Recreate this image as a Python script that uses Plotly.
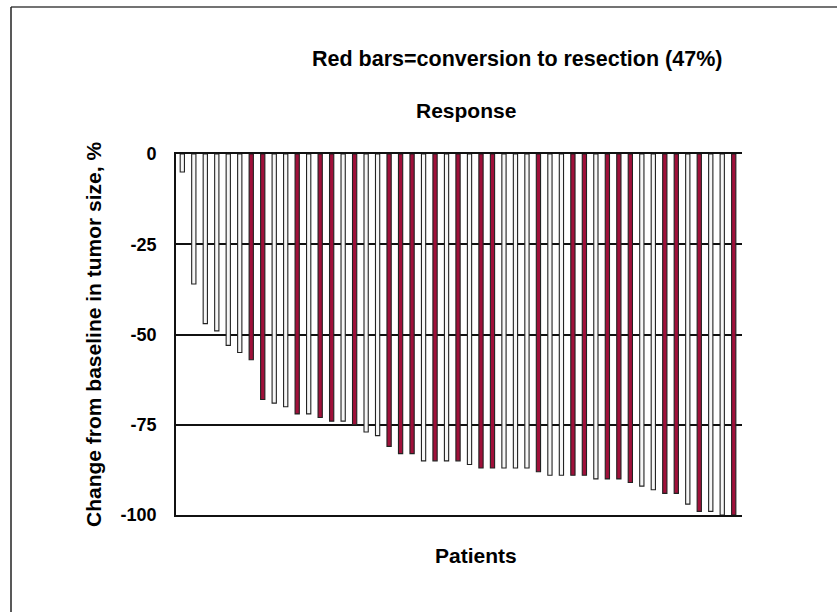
import plotly.graph_objects as go

# Data (change from baseline, %)
patients = list(range(1, 50))
change = [-5, -36, -47, -49, -53, -55, -57, -68, -69, -70, -72, -72, -73, -74, -74, -75,
          -77, -78, -81, -83, -83, -85, -85, -85, -85, -86, -87, -87, -87, -87, -87, -88,
          -89, -89, -89, -89, -90, -90, -90, -91, -92, -93, -94, -94, -97, -99, -99, -100, -100]
resected = [0, 0, 0, 0, 0, 0, 1, 1, 0, 0, 1, 0, 1, 1, 0, 1, 0, 0, 1, 1, 1, 0, 1, 0, 1,
            0, 1, 1, 0, 0, 0, 1, 0, 0, 1, 1, 0, 1, 1, 1, 0, 0, 1, 1, 0, 1, 0, 0, 1]
tick_vals = [0, -25, -50, -75, -100]
tick_text = ["0", "-25", "-50", "-75", "-100"]

RED = "#a0103a"
WHITE = "#f6f6f6"
colors = [RED if r else WHITE for r in resected]

W, H = 837, 612
L, R, T, B = 176, 742, 154, 515
pw, ph = R - L, B - T

def px(x):
    return (x - L) / pw

def py(y):
    return (B - y) / ph

FONT = "Liberation Sans, Arial, sans-serif"

fig = go.Figure()
fig.add_trace(go.Bar(
    x=patients, y=change, width=0.37,
    marker=dict(color=colors, line=dict(color="#222222", width=1.1)),
    showlegend=False, hoverinfo="y",
))

fig.update_layout(
    width=W, height=H,
    margin=dict(l=L, r=W - R, t=T, b=H - B, pad=0),
    paper_bgcolor="white", plot_bgcolor="white",
    font=dict(family=FONT, color="black"),
    xaxis=dict(range=[0.45, 49.72], showticklabels=False, showgrid=False, zeroline=False,
               showline=True, mirror=True, linecolor="#111111", linewidth=1.6, ticks=""),
    yaxis=dict(range=[-100, 0], tickvals=tick_vals, ticktext=tick_text,
               showgrid=True, gridcolor="#111111", gridwidth=1.6, zeroline=False,
               showline=True, linecolor="#111111", linewidth=1.6, ticks="",
               ticklabelstandoff=14,
               tickfont=dict(family=FONT, size=18, color="black", weight="bold")),
    annotations=[
        dict(text="<b>Red bars=conversion to resection (47%)</b>", x=px(517), y=py(59),
             xref="paper", yref="paper", showarrow=False, xanchor="center", yanchor="middle",
             font=dict(family=FONT, size=21.5, color="black")),
        dict(text="<b>Response</b>", x=px(466), y=py(110),
             xref="paper", yref="paper", showarrow=False, xanchor="center", yanchor="middle",
             font=dict(family=FONT, size=21, color="black")),
        dict(text="<b>Patients</b>", x=px(476), y=py(555),
             xref="paper", yref="paper", showarrow=False, xanchor="center", yanchor="middle",
             font=dict(family=FONT, size=21, color="black")),
        dict(text="<b>Change from baseline in tumor size, %</b>", x=px(93), y=py(335),
             xref="paper", yref="paper", showarrow=False, xanchor="center", yanchor="middle",
             textangle=-90, font=dict(family=FONT, size=21, color="black")),
    ],
    shapes=[
        dict(type="line", xref="paper", yref="paper", x0=px(11), x1=px(840), y0=py(7), y1=py(7),
             line=dict(color="#444444", width=1.5)),
        dict(type="line", xref="paper", yref="paper", x0=px(11), x1=px(11), y0=py(7), y1=py(615),
             line=dict(color="#222222", width=1.5)),
    ],
)

fig.write_html("out.html", config={"displayModeBar": False},
               post_script="document.body.style.margin='0';document.body.style.overflow='hidden';"
                           "document.documentElement.style.overflow='hidden';")
